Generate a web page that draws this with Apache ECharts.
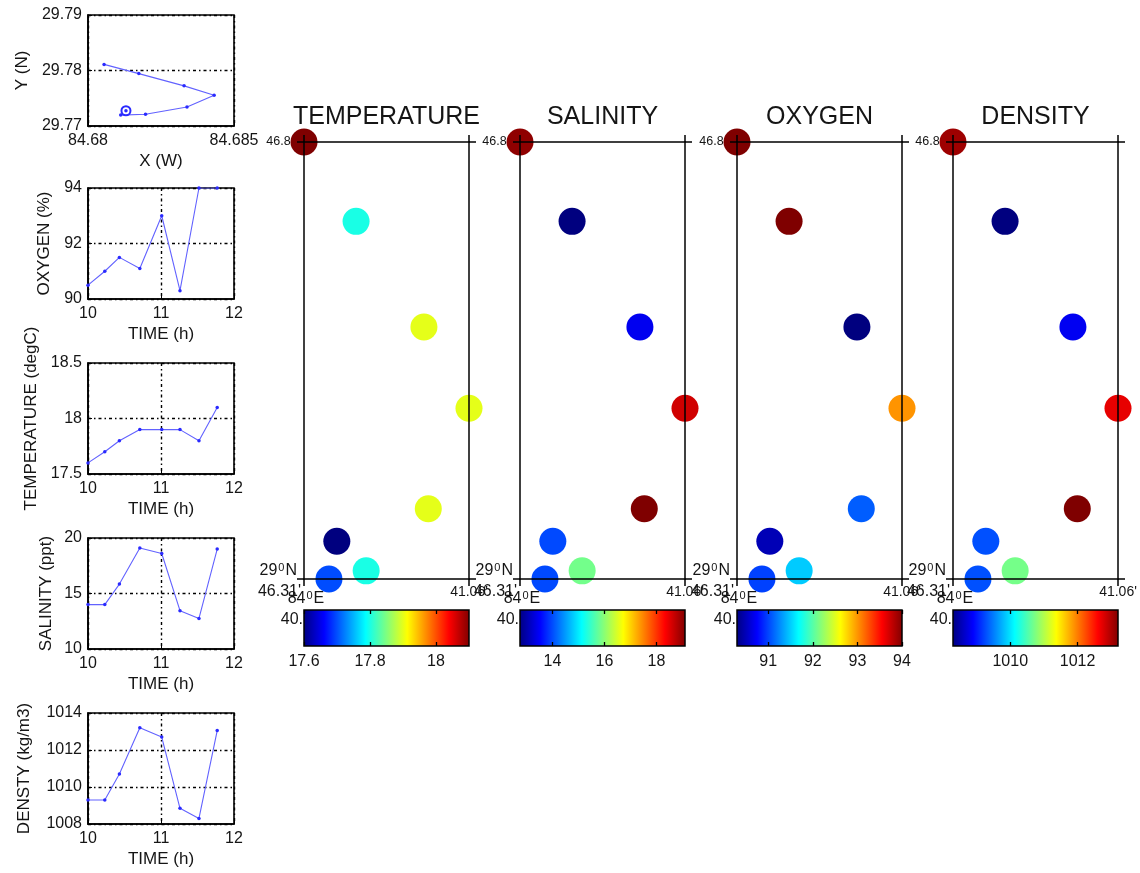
<!DOCTYPE html>
<html><head><meta charset="utf-8">
<script src="https://cdn.jsdelivr.net/npm/echarts@6/dist/echarts.min.js"></script>
<style>html,body{margin:0;padding:0;background:#fff}#c{width:1140px;height:873px}</style>
</head><body><div id="c"></div>
<script>
// ---- data (time order) ----
const timeH = [10.0, 10.23, 10.43, 10.71, 11.01, 11.26, 11.52, 11.77];
const lonW = [84.68130, 84.68112, 84.68197, 84.68339, 84.68432, 84.68329, 84.68174, 84.68055];
const latN = [29.77275, 29.77196, 29.77213, 29.77343, 29.77553, 29.77723, 29.77944, 29.78110];
const temperature = [17.6, 17.7, 17.8, 17.9, 17.9, 17.9, 17.8, 18.1];
const salinity = [14.0, 14.0, 15.85, 19.1, 18.6, 13.45, 12.75, 19.0];
const oxygen = [90.5, 91.0, 91.5, 91.1, 93.0, 90.3, 94.0, 94.0];
const density = [1009.3, 1009.3, 1010.7, 1013.2, 1012.7, 1008.85, 1008.3, 1013.05];

// ---- tick labels ----
const timeTicks = [10, 11, 12];
const xyXTicks = [84.68, 84.685];
const xyYTicks = [29.77, 29.78, 29.79];
const oxyTicks = [90, 92, 94];
const tempTicks = [17.5, 18, 18.5];
const salTicks = [10, 15, 20];
const densTicks = [1008, 1010, 1012, 1014];
const tempBarTicks = [17.6, 17.8, 18];
const salBarTicks = [14, 16, 18];
const oxyBarTicks = [91, 92, 93, 94];
const densBarTicks = [1010, 1012];
const panelTitles = ['TEMPERATURE', 'SALINITY', 'OXYGEN', 'DENSITY'];
const latTopLabel = "46.86'";
const latBottomLabel = "46.31'";
const latDegLabel = ['29', '0', 'N'];
const lonLeftLabel = ['84', '0', 'E'];
const lonRightLabel = "41.06'";
const barLeftLabel = '40.';

// ---- layout / style ----
const font = 'Liberation Sans, Arial, Helvetica, sans-serif';
const ink = '#151515';
const PL = 88, PW = 146, PH = 111;
const plotTops = [15, 188, 363, 538, 713];
const mapLefts = [304, 520, 737, 953];
const MW = 165, MT = 142, MH = 437;
const BT = 610, BH = 36;
const jet = ['#00007f', '#0000ff', '#007fff', '#00ffff', '#7fff7f', '#ffff00', '#ff7f00', '#ff0000', '#7f0000'];
const jetStops = jet.map((c, i) => ({offset: i / (jet.length - 1), color: c}));
const gridLine = {show: true, lineStyle: {color: '#000', type: [3, 3, 1.5, 3], width: 1.4}};
const fmt = v => String(+(+v).toFixed(4));

const chart = echarts.init(document.getElementById('c'));
const grid = [], xAxis = [], yAxis = [], series = [], visualMap = [], graphic = [];

function rng(t) { return {min: t[0], max: t[t.length - 1], interval: +(t[1] - t[0]).toFixed(6)}; }

const leftPlots = [
  {x: lonW, y: latN, xt: xyXTicks, yt: xyYTicks, xname: 'X (W)', yname: 'Y (N)', ygap: 57},
  {x: timeH, y: oxygen, xt: timeTicks, yt: oxyTicks, xname: 'TIME (h)', yname: 'OXYGEN (%)', ygap: 35},
  {x: timeH, y: temperature, xt: timeTicks, yt: tempTicks, xname: 'TIME (h)', yname: 'TEMPERATURE (degC)', ygap: 48},
  {x: timeH, y: salinity, xt: timeTicks, yt: salTicks, xname: 'TIME (h)', yname: 'SALINITY (ppt)', ygap: 33},
  {x: timeH, y: density, xt: timeTicks, yt: densTicks, xname: 'TIME (h)', yname: 'DENSTY (kg/m3)', ygap: 55}
];

leftPlots.forEach((p, i) => {
  const gi = grid.length;
  grid.push({left: PL, top: plotTops[i], width: PW, height: PH, show: true, borderColor: '#000', borderWidth: 1.6});
  const xi = xAxis.length, yi = yAxis.length;
  xAxis.push(Object.assign({type: 'value', gridIndex: gi, position: 'bottom'}, rng(p.xt), {
    name: p.xname, nameLocation: 'middle', nameGap: 27,
    nameTextStyle: {fontSize: 17, color: ink, fontFamily: font},
    axisLine: {show: true, onZero: false, lineStyle: {color: '#000', width: 1.6}},
    axisTick: {show: true, inside: true, length: 4, lineStyle: {color: '#000'}},
    axisLabel: {fontSize: 16, color: ink, fontFamily: font, margin: 7, formatter: fmt, showMinLabel: true, showMaxLabel: true},
    splitLine: gridLine
  }));
  yAxis.push(Object.assign({type: 'value', gridIndex: gi, position: 'left'}, rng(p.yt), {
    name: p.yname, nameLocation: 'middle', nameGap: p.ygap, nameRotate: 90,
    nameTextStyle: {fontSize: 17, color: ink, fontFamily: font},
    axisLine: {show: true, onZero: false, lineStyle: {color: '#000', width: 1.6}},
    axisTick: {show: true, inside: true, length: 4, lineStyle: {color: '#000'}},
    axisLabel: {fontSize: 16, color: ink, fontFamily: font, margin: 6, formatter: fmt, showMinLabel: true, showMaxLabel: true},
    splitLine: gridLine
  }));
  series.push({
    type: 'line', xAxisIndex: xi, yAxisIndex: yi, silent: true, animation: false,
    data: p.x.map((v, k) => [v, p.y[k]]),
    lineStyle: {color: '#6262ff', width: 1.1}, itemStyle: {color: '#2a2aff', opacity: 1},
    symbol: 'circle', symbolSize: 3.5, showSymbol: true, z: 3
  });
  if (i === 0) {
    series.push({
      type: 'scatter', xAxisIndex: xi, yAxisIndex: yi, silent: true, animation: false,
      data: [[p.x[0], p.y[0]]], symbol: 'emptyCircle', symbolSize: 9,
      itemStyle: {color: '#2a2aff', borderColor: '#2a2aff', borderWidth: 1.2, opacity: 1}, z: 4
    });
    series.push({
      type: 'scatter', xAxisIndex: xi, yAxisIndex: yi, silent: true, animation: false,
      data: [[p.x[0], p.y[0]]], symbol: 'circle', symbolSize: 3.5,
      itemStyle: {color: '#2a2aff', opacity: 1}, z: 5
    });
  }
});

const lonMin = Math.min(...lonW), lonMax = Math.max(...lonW);
const latMin = Math.min(...latN), latMax = Math.max(...latN);
const vars = [temperature, salinity, oxygen, density];
const barTicks = [tempBarTicks, salBarTicks, oxyBarTicks, densBarTicks];

function frameAxis(gi, pos, lo, hi) {
  return {type: 'value', gridIndex: gi, position: pos, min: lo, max: hi, z: 10,
    axisLine: {show: true, onZero: false, lineStyle: {color: '#000', width: 1.5}},
    axisTick: {show: true, inside: false, length: 7, customValues: [lo, hi], lineStyle: {color: '#000', width: 1.5}},
    axisLabel: {show: false}, splitLine: {show: false}};
}

vars.forEach((vals, i) => {
  const left = mapLefts[i];
  // map panel
  const gi = grid.length;
  grid.push({left: left, top: MT, width: MW, height: MH});
  const xb = xAxis.length;
  xAxis.push(frameAxis(gi, 'bottom', lonMin, lonMax));
  xAxis.push(frameAxis(gi, 'top', lonMin, lonMax));
  const yl = yAxis.length;
  yAxis.push(frameAxis(gi, 'left', latMin, latMax));
  yAxis.push(frameAxis(gi, 'right', latMin, latMax));
  const vmin = Math.min(...vals), vmax = Math.max(...vals);
  visualMap.push({type: 'continuous', show: false, seriesIndex: series.length, dimension: 2,
    min: vmin, max: vmax, inRange: {color: jet, opacity: 1}});
  series.push({type: 'scatter', xAxisIndex: xb, yAxisIndex: yl, clip: false, silent: true, animation: false,
    data: lonW.map((x, k) => [x, latN[k], vals[k]]), symbol: 'circle', symbolSize: 27,
    itemStyle: {opacity: 1}, z: 2});

  // colorbar
  const bg = grid.length;
  grid.push({left: left, top: BT, width: MW, height: BH});
  const bxb = xAxis.length;
  const bt = barTicks[i];
  xAxis.push({type: 'value', gridIndex: bg, position: 'bottom', min: vmin, max: vmax, z: 10,
    axisLine: {show: false}, splitLine: {show: false},
    axisTick: {show: true, inside: true, length: 4, customValues: bt, lineStyle: {color: '#000', width: 1.3}},
    axisLabel: {show: true, customValues: bt, fontSize: 16, color: ink, fontFamily: font, margin: 8, formatter: fmt}});
  xAxis.push({type: 'value', gridIndex: bg, position: 'top', min: vmin, max: vmax, z: 10,
    axisLine: {show: false}, splitLine: {show: false},
    axisTick: {show: true, inside: true, length: 4, customValues: bt, lineStyle: {color: '#000', width: 1.3}},
    axisLabel: {show: false}});
  const byi = yAxis.length;
  yAxis.push({type: 'value', gridIndex: bg, min: 0, max: 1, show: false});
  series.push({type: 'custom', xAxisIndex: bxb, yAxisIndex: byi, silent: true, animation: false, clip: false,
    data: [[vmin, vmax]], z: 2,
    renderItem: (params, api) => {
      const p0 = api.coord([api.value(0), 1]);
      const p1 = api.coord([api.value(1), 0]);
      return {type: 'rect', shape: {x: p0[0], y: p0[1], width: p1[0] - p0[0], height: p1[1] - p0[1]},
        style: {fill: new echarts.graphic.LinearGradient(0, 0, 1, 0, jetStops), stroke: '#000', lineWidth: 1.5}};
    }});

  // texts
  const right = left + MW;
  const bottom = MT + MH;
  const t = (text, x, y, size, align, extra) => graphic.push(Object.assign({type: 'text', x: x, y: y, z: 0, silent: true,
    style: Object.assign({text: text, fontSize: size, fontFamily: font, fill: ink, align: align, verticalAlign: 'middle'}, extra || {})}));
  t(panelTitles[i], left + MW / 2, 117, 25, 'center');
  t(latTopLabel, left - 4, MT, 12.5, 'right');
  const sup = {rich: {n: {fontSize: 16, fontFamily: font, fill: ink}, s: {fontSize: 11, fontFamily: font, fill: ink, verticalAlign: 'top', padding: [0, 1, 7, 1]}}};
  t('{n|' + latDegLabel[0] + '}{s|' + latDegLabel[1] + '}{n|' + latDegLabel[2] + '}', left - 7, bottom - 8, 16, 'right', sup);
  t(latBottomLabel, left - 3, bottom + 13, 16, 'right');
  t('{n|' + lonLeftLabel[0] + '}{s|' + lonLeftLabel[1] + '}{n|' + lonLeftLabel[2] + '}', left + 2, bottom + 20, 16, 'center', sup);
  t(lonRightLabel, right, bottom + 13, 14, 'center');
  t(barLeftLabel, left - 1, BT + 10, 16, 'right');
});

chart.setOption({animation: false, backgroundColor: '#fff', grid, xAxis, yAxis, series, visualMap, graphic});
</script></body></html>
